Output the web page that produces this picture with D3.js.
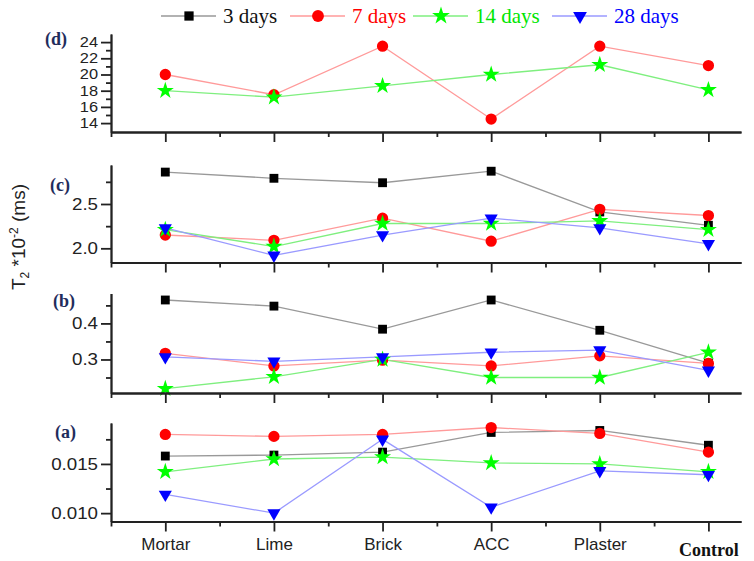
<!DOCTYPE html>
<html>
<head>
<meta charset="utf-8">
<script src="https://cdn.jsdelivr.net/npm/d3@7"></script>
<style>
  body { margin: 0; background: #fff; }
  .tick text { font-family: "Liberation Sans", Arial, sans-serif; fill: #222; }
</style>
</head>
<body>
<div id="chart"></div>
<script>
// Categories and series
var categories = ["Mortar", "Lime", "Brick", "ACC", "Plaster", "Control"];
var seriesNames = ["3 days", "7 days", "14 days", "28 days"];

// Panel (d) values (only 7 and 14 days)
var d7 = [20.0, 17.5, 23.5, 14.5, 23.5, 21.1];
var d14 = [18.0, 17.2, 18.6, 20.0, 21.2, 18.1];

// Panel (c) values
var c3 = [2.86, 2.79, 2.74, 2.87, 2.41, 2.26];
var c7 = [2.15, 2.09, 2.34, 2.08, 2.44, 2.37];
var c14 = [2.21, 2.02, 2.28, 2.28, 2.31, 2.21];
var c28 = [2.23, 1.92, 2.15, 2.34, 2.23, 2.05];

// Panel (b) values
var b3 = [0.465, 0.448, 0.384, 0.465, 0.381, 0.29];
var b7 = [0.317, 0.282, 0.298, 0.282, 0.31, 0.289];
var b14 = [0.219, 0.252, 0.30, 0.25, 0.25, 0.32];
var b28 = [0.307, 0.295, 0.307, 0.32, 0.326, 0.27];

// Panel (a) values
var a3 = [0.0158, 0.0159, 0.0162, 0.0182, 0.0184, 0.0169];
var a7 = [0.0180, 0.0178, 0.0180, 0.0187, 0.0181, 0.0162];
var a14 = [0.0142, 0.0155, 0.0157, 0.0151, 0.0150, 0.0142];
var a28 = [0.0119, 0.0100, 0.0175, 0.0106, 0.0143, 0.0139];

// Tick values per panel
var dTicks = [14, 16, 18, 20, 22, 24];
var dMinor = [15, 17, 19, 21, 23];
var cTicks = [2.0, 2.5];
var cMinor = [2.25, 2.75];
var bTicks = [0.3, 0.4];
var bMinor = [0.25, 0.35, 0.45];
var aTicks = [0.010, 0.015];
var aMinor = [0.0125, 0.0175];

var svgWidth = 754;
var svgHeight = 561;

var svg = d3.select("#chart")
  .append("svg")
  .attr("width", svgWidth)
  .attr("height", svgHeight);

// Series styles
var styles = [
  { line: "#999999", fill: "#000000", sym: d3.symbolSquare, size: 78, rot: 0, text: "#111" },
  { line: "#ff9a9a", fill: "#ff0000", sym: d3.symbolCircle, size: 100, rot: 0, text: "#ff0000" },
  { line: "#7fef7f", fill: "#00ff00", sym: d3.symbolStar, size: 90, rot: 0, text: "#00e600" },
  { line: "#9a9aff", fill: "#0000ff", sym: d3.symbolTriangle, size: 75, rot: 180, text: "#0000ff" }
];

// Shared x scale (category index)
var xScale = d3.scaleLinear()
  .domain([-0.5, 5.3])
  .range([111, 741]);

var panels = [
  { name: "(d)", top: 34, bottom: 132, domain: [12.9, 25], ticks: dTicks, minor: dMinor, fmt: d3.format("d"),
    series: [null, d7, d14, null], labelY: 45, labelX: 45, fs: 14 },
  { name: "(c)", top: 165, bottom: 262.5, domain: [1.84, 2.94], ticks: cTicks, minor: cMinor, fmt: d3.format(".1f"),
    series: [c3, c7, c14, c28], labelY: 191, labelX: 50, fs: 16 },
  { name: "(b)", top: 293.5, bottom: 393, domain: [0.207, 0.483], ticks: bTicks, minor: bMinor, fmt: d3.format(".1f"),
    series: [b3, b7, b14, b28], labelY: 307, labelX: 53, fs: 16 },
  { name: "(a)", top: 423, bottom: 521.5, domain: [0.00915, 0.01916], ticks: aTicks, minor: aMinor, fmt: d3.format(".3f"),
    series: [a3, a7, a14, a28], labelY: 438, labelX: 55, fs: 16 }
];

panels.forEach(function(p, pi) {
  var yScale = d3.scaleLinear()
    .domain(p.domain)
    .range([p.bottom, p.top]);

  var g = svg.append("g");

  // Lines and markers
  p.series.forEach(function(vals, si) {
    if (!vals) return;
    var st = styles[si];
    var line = d3.line()
      .x(function(d, i) { return xScale(i); })
      .y(function(d) { return yScale(d); });
    g.append("path")
      .datum(vals)
      .attr("d", line)
      .attr("fill", "none")
      .attr("stroke", st.line)
      .attr("stroke-width", 1.3);
  });
  p.series.forEach(function(vals, si) {
    if (!vals) return;
    var st = styles[si];
    g.selectAll(".m" + si)
      .data(vals)
      .enter()
      .append("path")
      .attr("d", d3.symbol().type(st.sym).size(st.size))
      .attr("transform", function(d, i) {
        return "translate(" + xScale(i) + "," + yScale(d) + ") rotate(" + st.rot + ")";
      })
      .attr("fill", st.fill);
  });

  // Y axis, major and minor
  var yMajor = g.append("g")
    .attr("transform", "translate(111,0)")
    .call(d3.axisLeft(yScale).tickValues(p.ticks).tickFormat(p.fmt).tickSize(10).tickSizeOuter(0).tickPadding(3));
  g.append("g")
    .attr("transform", "translate(111,0)")
    .call(d3.axisLeft(yScale).tickValues(p.minor).tickFormat("").tickSize(5).tickSizeOuter(0));

  // tick labels in the original look horizontally stretched
  yMajor.selectAll("text")
    .style("font-size", p.fs + "px")
    .each(function() {
      var w = this.getComputedTextLength();
      d3.select(this)
        .attr("textLength", w * 1.17)
        .attr("lengthAdjust", "spacingAndGlyphs");
    });

  // X axis, major and minor
  var xMajor = g.append("g")
    .attr("transform", "translate(0," + p.bottom + ")")
    .call(d3.axisBottom(xScale).tickValues([0, 1, 2, 3, 4, 5]).tickSize(10).tickSizeOuter(0)
      .tickFormat(function(d) { return pi === 3 ? categories[d] : ""; }).tickPadding(6));
  g.append("g")
    .attr("transform", "translate(0," + p.bottom + ")")
    .call(d3.axisBottom(xScale).tickValues([-0.5, 0.5, 1.5, 2.5, 3.5, 4.5]).tickSize(5).tickSizeOuter(0).tickFormat(""));

  xMajor.selectAll("text").style("font-size", "17px");
  if (pi === 3) {
    // Control label is bold serif in the original
    xMajor.selectAll("text")
      .filter(function(d) { return d === 5; })
      .style("font-family", "'Liberation Serif', 'Times New Roman', serif")
      .style("font-weight", "bold")
      .style("font-size", "18px")
      .attr("dy", "1.05em")
      .style("fill", "#111");
  }

  g.selectAll(".domain, .tick line")
    .attr("stroke", "#222")
    .attr("stroke-width", 1.8);

  // Panel label
  svg.append("text")
    .attr("x", p.labelX)
    .attr("y", p.labelY)
    .style("font-family", "'Liberation Serif', 'Times New Roman', serif")
    .style("font-weight", "bold")
    .style("font-size", "18px")
    .style("fill", "#1f2d5c")
    .text(p.name);
});

// Y axis title
var yTitle = svg.append("text")
  .attr("transform", "translate(25,237) rotate(-90)")
  .attr("text-anchor", "middle")
  .style("font-family", "'Liberation Sans', Arial, sans-serif")
  .style("font-size", "19px")
  .style("fill", "#222");
yTitle.append("tspan").text("T");
yTitle.append("tspan").attr("baseline-shift", "-35%").style("font-size", "12px").text("2");
yTitle.append("tspan").text(" *10");
yTitle.append("tspan").attr("baseline-shift", "super").style("font-size", "12px").text("-2");
yTitle.append("tspan").text(" (ms)");

// Legend
var legendX = [161, 290, 413, 552];
var legend = svg.append("g");
seriesNames.forEach(function(name, i) {
  var st = styles[i];
  var lx = legendX[i];
  legend.append("line")
    .attr("x1", lx).attr("x2", lx + 55)
    .attr("y1", 16).attr("y2", 16)
    .attr("stroke", st.line)
    .attr("stroke-width", 1.3);
  legend.append("path")
    .attr("d", d3.symbol().type(st.sym).size(st.size * 1.1))
    .attr("transform", "translate(" + (lx + 28) + ",16) rotate(" + st.rot + ")")
    .attr("fill", st.fill);
  legend.append("text")
    .attr("x", lx + 62)
    .attr("y", 23)
    .style("font-family", "'Liberation Serif', 'Times New Roman', serif")
    .style("font-size", "21px")
    .style("fill", st.text)
    .text(name);
});
</script>
</body>
</html>
